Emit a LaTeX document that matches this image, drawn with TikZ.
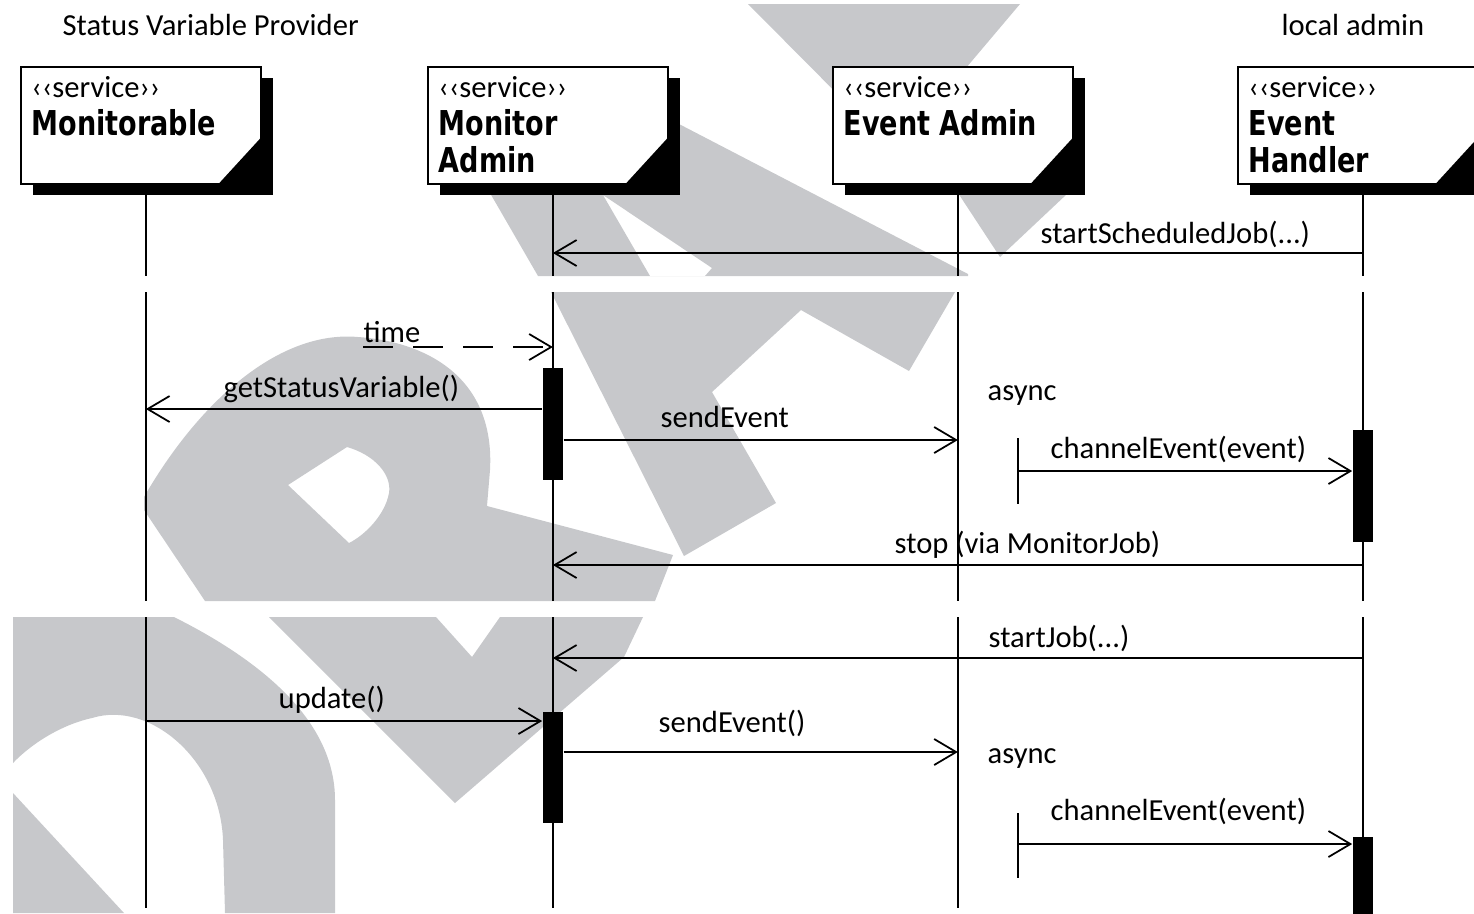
\documentclass[tikz,border=0pt]{standalone}
\usepackage{fontspec}
\setmainfont{Carlito}
\newfontfamily\svcfont{DejaVu Sans}[FakeStretch=0.79]
\usetikzlibrary{arrows.meta,calc,positioning,shadows}
\definecolor{wmgray}{RGB}{199,200,203}

\tikzset{
  svc/.style={draw, line width=0.5pt, fill=white, anchor=north west, inner sep=0pt,
    minimum width=24mm, minimum height=11.7mm,
    drop shadow={shadow xshift=1.2mm, shadow yshift=-1.1mm, fill=black, opacity=1}},
  stereo/.style={anchor=base west, inner sep=0pt, font=\fontsize{8.7}{10}\selectfont},
  svcname/.style={anchor=base west, inner sep=0pt, align=left,
    font=\svcfont\bfseries\fontsize{9.75}{10.5}\selectfont},
  lbl/.style={anchor=base west, inner sep=0pt, font=\fontsize{8.7}{10}\selectfont},
  life/.style={line width=0.4pt},
  msg/.style={line width=0.5pt, -{Straight Barb[length=2.2mm, width=2.6mm]}},
  act/.style={fill=black, minimum width=2mm, inner sep=0pt},
  wm/.style={fill=wmgray, even odd rule},
}

\begin{document}
\begin{tikzpicture}[x=0.1mm, y=-0.1mm]
  \useasboundingbox (0,0) rectangle (1474,913);

  % watermark pieces, top strip
  \fill[wm] (748,4) -- (1020,4) -- (895,152) -- cycle;
  \fill[wm] (490,193) -- (679,193) -- (679,124) -- (968,274) -- (968,276) -- (538,276) -- cycle
    (603,195) -- (712,268) -- (705,276) -- (650,276) -- cycle;
  \fill[wm] (958,193) -- (1068,193) -- (1000,257) -- cycle;
  % middle strip
  \fill[wm] (144,497) .. controls (200,400) and (280,330) .. (358,337)
    .. controls (430,342) and (495,380) .. (490,470) -- (487,506) -- (673,555) -- (655,601)
    -- (205,601) -- (144,510) -- cycle
    (288,485) -- (347,447) .. controls (375,455) and (392,475) .. (389,493)
    .. controls (385,515) and (365,535) .. (349,543) -- cycle;
  \fill[wm] (551,292) -- (955,292) -- (909,371) -- (801,310) -- (712,392) -- (776,503) -- (684,556) -- cycle;
  % bottom strip
  \fill[wm] (13,617) -- (174,617) .. controls (260,660) and (335,720) .. (335,800) -- (335,913)
    -- (225,913) -- (223,840) .. controls (220,760) and (150,700) .. (92,718)
    .. controls (60,725) and (30,745) .. (13,763) -- cycle;
  \fill[wm] (13,793) -- (124,913) -- (13,913) -- cycle;
  \fill[wm] (269,617) -- (436,617) -- (472,657) -- (500,617) -- (643,617) -- (624,657) -- (455,803) -- cycle;

  \node[lbl] (svp) at (62,35) {Status Variable Provider};
  \node[lbl] (loc) at (1281,35) {local admin};

  % the four services
  \node[svc] (mon) at (20,66) {};
  \node[svc] (madm) at (427,66) {};
  \node[svc] (eadm) at (832,66) {};
  \node[svc] (ehdl) at (1237,66) {};
  \foreach \b/\who/\dy in {mon/Monitorable/69, madm/{Monitor\\Admin}/106,
                           eadm/Event Admin/69, ehdl/{Event\\Handler}/106} {
    \fill (\b.south east) -- +(0,-48) -- +(-44,0) -- cycle;
    \node[stereo] at ($(\b.north west)+(11,31)$) {‹‹service››};
    \node[svcname] at ($(\b.north west)+(11,\dy)$) {\who};
    % lifeline, broken where the page is cut
    \coordinate (\b-l) at ($(\b.south)+(5,10)$);
    \draw[life] (\b-l) -- (\b-l |- 0,276);
    \draw[life] (\b-l |- 0,292) -- (\b-l |- 0,601);
    \draw[life] (\b-l |- 0,617) -- (\b-l |- 0,908);
  }

  % activations
  \node[act, minimum height=11.2mm] (ma1) at (madm-l |- 0,424) {};
  \node[act, minimum height=11.2mm] (eh1) at (ehdl-l |- 0,486) {};
  \node[act, minimum height=11.1mm] (ma2) at (madm-l |- 0,767) {};
  \node[act, minimum height=8mm] (eh2) at (ehdl-l |- 0,877) {};

  % scheduled job
  \draw[msg] (ehdl-l |- 0,253) -- (madm-l |- 0,253);
  \node[lbl] at (1040,243) {startScheduledJob(...)};

  \coordinate (tm) at (363,347);
  \draw[msg, dash pattern=on 3mm off 2mm] (tm) -- (madm-l |- tm);
  \node[lbl] at (363,342) {time};

  \draw[msg] (ma1.west |- 0,409) -- (mon-l |- 0,409);
  \node[lbl] at (223,397) {getStatusVariable()};
  \draw[msg] (ma1.east |- 0,440) -- (eadm-l |- 0,440);
  \node[lbl] at (660,427) {sendEvent};
  \node[lbl] at (987,400) {async};

  \coordinate (as1) at (1018,438);
  \draw[life] (as1) -- +(0,66);
  \draw[msg] (as1 |- 0,471) -- (eh1.west |- 0,471);
  \node[lbl] at (1050,458) {channelEvent(event)};

  \draw[msg] (ehdl-l |- 0,565) -- (madm-l |- 0,565);
  \node[lbl] at (894,553) {stop (via MonitorJob)};

  % plain job
  \draw[msg] (ehdl-l |- 0,658) -- (madm-l |- 0,658);
  \node[lbl] at (988,647) {startJob(...)};

  \draw[msg] (mon-l |- 0,721) -- (ma2.west |- 0,721);
  \node[lbl] at (278,708) {update()};
  \draw[msg] (ma2.east |- 0,752) -- (eadm-l |- 0,752);
  \node[lbl] at (658,732) {sendEvent()};
  \node[lbl] at (987,763) {async};

  \coordinate (as2) at (1018,813);
  \draw[life] (as2) -- +(0,65);
  \draw[msg] (as2 |- 0,844) -- (eh2.west |- 0,844);
  \node[lbl] at (1050,820) {channelEvent(event)};
\end{tikzpicture}
\end{document}
